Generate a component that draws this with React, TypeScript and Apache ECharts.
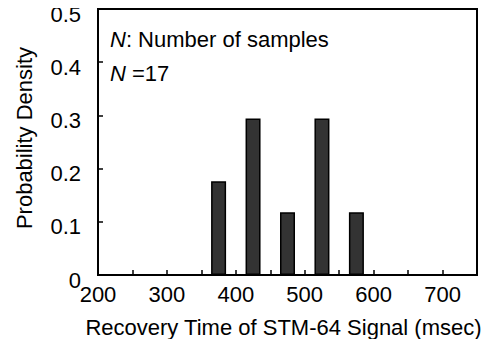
import React, { useEffect, useRef } from "react";
import * as echarts from "echarts";

const binCenters = [375, 425, 475, 525, 575];
const density = [0.176, 0.294, 0.118, 0.294, 0.118];
const xTickLabels = [200, 300, 400, 500, 600, 700];

const FONT = "'Liberation Sans', Arial, sans-serif";

export default function App() {
  const ref = useRef<HTMLDivElement>(null);
  useEffect(() => {
    if (!ref.current) return;
    const chart = echarts.init(ref.current, null, { renderer: "svg" });
    chart.setOption({
      animation: false,
      grid: {
        left: 98,
        right: 15,
        top: 9,
        bottom: 72,
        show: true,
        borderColor: "#000",
        borderWidth: 2,
        backgroundColor: "transparent",
      },
      xAxis: {
        type: "value",
        min: 200,
        max: 750,
        interval: 50,
        name: "Recovery Time of STM-64 Signal (msec)",
        nameLocation: "middle",
        nameGap: 41,
        nameTextStyle: { fontFamily: FONT, fontSize: 22, color: "#000", padding: [0, 8, 0, 0] },
        axisLine: { show: true, lineStyle: { color: "#000", width: 2 } },
        axisTick: { show: true, inside: true, length: 5, lineStyle: { color: "#000", width: 1.5 } },
        axisLabel: {
          fontFamily: FONT,
          fontSize: 22,
          color: "#000",
          margin: 8,
          formatter: (v: number) => (xTickLabels.includes(v) ? String(v) : ""),
        },
        splitLine: { show: false },
      },
      yAxis: {
        type: "value",
        min: 0,
        max: 0.5,
        interval: 0.1,
        name: "Probability Density",
        nameLocation: "middle",
        nameGap: 63,
        nameTextStyle: { fontFamily: FONT, fontSize: 22, color: "#000", padding: [0, 0, 0, 8] },
        axisLine: { show: true, lineStyle: { color: "#000", width: 2 } },
        axisTick: { show: true, inside: true, length: 5, lineStyle: { color: "#000", width: 1.5 } },
        axisLabel: {
          fontFamily: FONT,
          fontSize: 22,
          color: "#000",
          margin: 17,
          verticalAlign: "top",
          lineHeight: 10,
        },
        splitLine: { show: false },
      },
      series: [
        {
          type: "bar",
          data: binCenters.map((c, i) => [c, density[i]]),
          barWidth: 15,
          itemStyle: { color: "#333333", borderColor: "#000", borderWidth: 1.5 },
        },
      ],
      graphic: [
        {
          type: "text",
          left: 110,
          top: 28,
          style: {
            text: "{i|N}{n|: Number of samples}",
            rich: {
              i: { fontFamily: FONT, fontSize: 22, fontStyle: "italic", fill: "#000" },
              n: { fontFamily: FONT, fontSize: 22, fill: "#000" },
            },
          },
        },
        {
          type: "text",
          left: 110,
          top: 62,
          style: {
            text: "{i|N}{n| =17}",
            rich: {
              i: { fontFamily: FONT, fontSize: 22, fontStyle: "italic", fill: "#000" },
              n: { fontFamily: FONT, fontSize: 22, fill: "#000" },
            },
          },
        },
      ],
    });
    return () => chart.dispose();
  }, []);
  return <div ref={ref} style={{ width: 492, height: 347, margin: -8 }} />;
}
